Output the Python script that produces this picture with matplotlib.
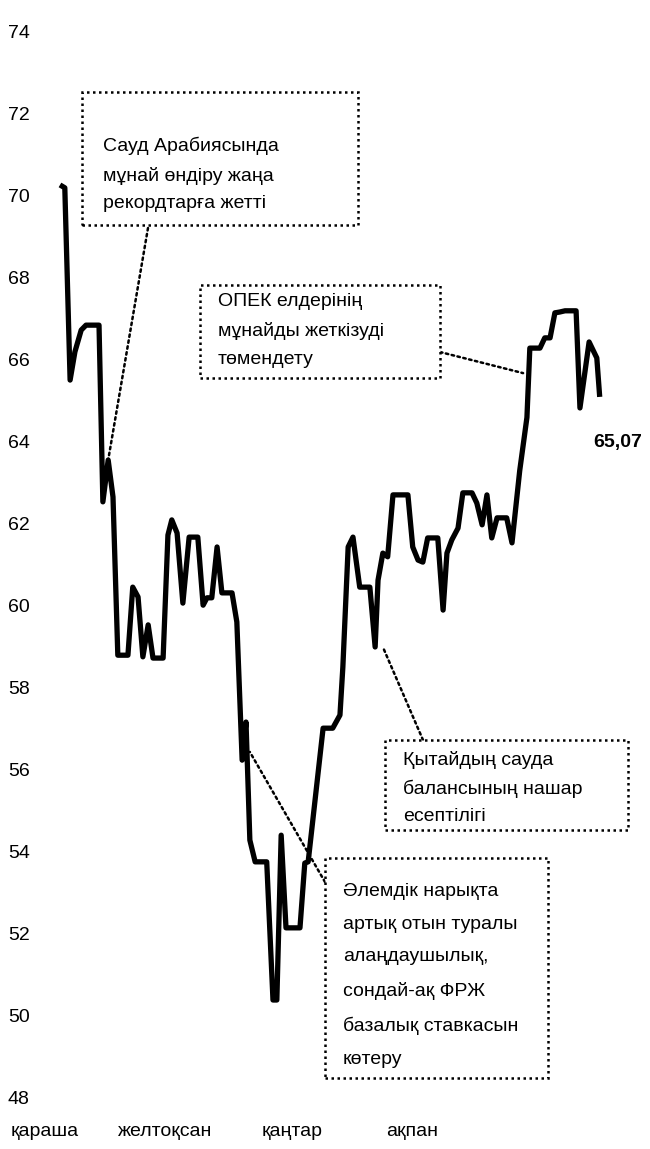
import matplotlib
matplotlib.use("Agg")
import matplotlib.pyplot as plt
import matplotlib.patches as patches

plt.rcParams["font.family"] = ["Liberation Sans", "DejaVu Sans"]

# күндер (бастапқы нүктеден бастап) және баға, суреттен оқылған
day = [0, 1.0, 2.1, 3.1, 4.4, 5.4, 8.1, 8.9, 10.0, 11.0, 12.0, 14.1, 15.1, 16.2,
       17.2, 18.3, 19.3, 21.4, 22.4, 23.2, 24.3, 25.5, 26.8, 28.6, 29.7, 30.5,
       31.5, 32.6, 33.6, 35.7, 36.7, 37.8, 38.6, 39.4, 40.5, 42.9, 44.2, 45.0,
       45.9, 46.9, 49.8, 50.8, 51.5, 54.6, 56.6, 58.1, 58.7, 59.8, 60.8, 62.2,
       64.3, 65.4, 66.0, 67.0, 68.0, 69.1, 72.2, 73.2, 74.3, 75.3, 76.3, 78.4,
       79.5, 80.3, 81.3, 82.6, 83.6, 85.5, 86.5, 87.6, 88.6, 89.6, 90.7, 92.7,
       93.8, 95.4, 96.9, 97.5, 99.6, 100.6, 101.7, 102.7, 103.7, 104.8, 107.1,
       107.9, 109.8, 111.4, 112.0]
price = [70.27, 70.20, 65.51, 66.20, 66.73, 66.85, 66.85, 62.54, 63.56, 62.66,
         58.80, 58.80, 60.46, 60.22, 58.76, 59.54, 58.73, 58.73, 61.73, 62.10,
         61.78, 60.07, 61.68, 61.68, 60.02, 60.20, 60.20, 61.44, 60.32, 60.32,
         59.61, 56.24, 57.17, 54.29, 53.76, 53.76, 50.39, 50.39, 54.41, 52.15,
         52.15, 53.73, 53.76, 57.02, 57.02, 57.34, 58.51, 61.44, 61.68, 60.46,
         60.46, 59.00, 60.63, 61.29, 61.20, 62.71, 62.71, 61.44, 61.12, 61.07,
         61.66, 61.66, 59.90, 61.29, 61.61, 61.90, 62.76, 62.76, 62.51, 61.98,
         62.71, 61.66, 62.15, 62.15, 61.54, 63.30, 64.60, 66.29, 66.29, 66.54,
         66.54, 67.15, 67.17, 67.20, 67.20, 64.83, 66.44, 66.05, 65.10]
last_label = "65,07"

month_labels = ["қараша", "желтоқсан", "қаңтар", "ақпан"]
month_pos = [-3.1, 21.8, 48.1, 73.0]
y_ticks = list(range(48, 75, 2))

notes = [
    "Сауд Арабиясында\nмұнай өндіру жаңа\nрекордтарға жетті",
    "ОПЕК елдерінің\nмұнайды жеткізуді\nтөмендету",
    "Қытайдың сауда\nбалансының нашар\nесептілігі",
    "Әлемдік нарықта\nартық отын туралы\nалаңдаушылық,\nсондай-ақ ФРЖ\nбазалық ставкасын\nкөтеру",
]
# нұсқаманың сызықпен түйісетін нүктелері (күн, баға)
note_targets = [(10.0, 63.56), (96.1, 65.68), (67.0, 59.0), (39.4, 56.44)]

W, H = 650, 1149
FS = 14
fig = plt.figure(figsize=(6.5, 11.49), dpi=100)


def px(x0, y0, x1, y1):
    # пиксельден фигура үлесіне
    return [x0 / W, 1 - y1 / H, (x1 - x0) / W, (y1 - y0) / H]


ax = fig.add_axes(px(45, 32, 645, 1098))
ax.plot(day, price, color="black", lw=3.8, solid_joinstyle="round",
        solid_capstyle="butt", zorder=3)

ax.set_xlim(-3.11, 121.4)
ax.set_ylim(48, 74)
ax.set_yticks(y_ticks)
ax.set_yticklabels([str(v) for v in y_ticks], fontsize=FS)
ax.set_xticks(month_pos)
ax.set_xticklabels(month_labels, fontsize=FS)
ax.tick_params(axis="y", length=0, pad=11)
ax.tick_params(axis="x", length=0, pad=18)
for s in ax.spines.values():
    s.set_visible(False)

ax.annotate(last_label, xy=(day[-1], price[-1]), xytext=(13, -33),
            textcoords="offset points", ha="center", va="center",
            fontsize=FS, fontweight="bold")


def fx(p):
    return (p - 45) / 600


def fy(p):
    return (1098 - p) / 1066


# қораптар: (сол, жоғары, оң, төмен) пиксельмен, мәтін басы, жол аралығы, сызық басы
boxes = [
    ((82, 92, 358, 225), (103, 137), 1.82, (148, 228)),
    ((200, 285, 440, 378), (218, 293), 1.87, (440, 352)),
    ((385, 740, 628, 830), (403, 751), 1.75, (423, 740)),
    ((325, 858, 548, 1078), (343, 883), 2.2, (325, 882)),
]
dots = (0, (1, 1.4))

for i, note in enumerate(notes):
    (l, t, r, b), (tx, ty), ls, (cx, cy) = boxes[i]
    rect = patches.Rectangle((fx(l), fy(b)), fx(r) - fx(l), fy(t) - fy(b),
                             transform=ax.transAxes, fill=True, facecolor="white",
                             edgecolor="black", lw=1.8, linestyle=dots,
                             clip_on=False, zorder=4)
    ax.add_patch(rect)
    ax.text(fx(tx), fy(ty), note, transform=ax.transAxes, ha="left", va="top",
            fontsize=FS, linespacing=ls, zorder=5)
    ax.annotate("", xy=note_targets[i], xycoords="data",
                xytext=(fx(cx), fy(cy)), textcoords="axes fraction",
                arrowprops=dict(arrowstyle="-", color="black", lw=1.8,
                                linestyle=dots, shrinkA=0, shrinkB=0),
                zorder=2)

fig.savefig("out.png", dpi=100)
